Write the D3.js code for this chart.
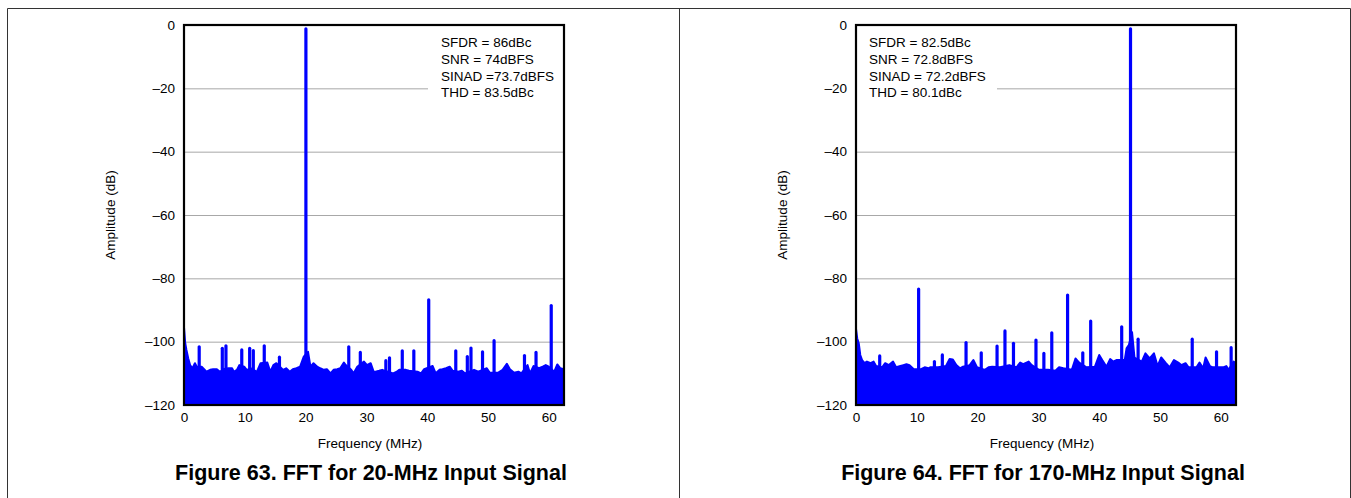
<!DOCTYPE html>
<html>
<head>
<meta charset="utf-8">
<script src="https://cdn.jsdelivr.net/npm/d3@7"></script>
<style>
  body { margin: 0; background: #fff; }
  svg text { font-family: "Liberation Sans", Arial, Helvetica, sans-serif; fill: #000; }
</style>
</head>
<body>
<div class="chart-container"></div>
<script>
// axis ticks (same for both figures)
const xTicks = [0, 10, 20, 30, 40, 50, 60];
const yTicks = [0, -20, -40, -60, -80, -100, -120];
const xDomain = [0, 62.5];
const yDomain = [-120, 0];

// Figure 63 - noise floor envelope [MHz, dB] and discrete spurs [MHz, dB]
const floor63 = [
  [0, -95.5], [0.2, -100.5], [0.4, -102.6], [0.7, -105.3], [1.0, -107.4], [1.4, -108.4],
  [1.8, -106.8], [2.1, -107.9], [2.9, -107.9], [3.3, -108.7], [3.7, -109.5], [4.3, -108.9],
  [4.8, -108.7], [5.4, -108.7], [5.9, -109.5], [6.6, -108.6], [7.3, -108.4], [7.9, -108.4],
  [8.2, -109.5], [8.7, -108.9], [9.1, -107.4], [9.9, -107.9], [10.3, -108.9], [11.1, -108.5],
  [12.0, -109.5], [12.6, -106.8], [13.7, -106.6], [14.2, -109.5], [14.7, -107.4], [15.2, -106.8],
  [16.3, -108.9], [16.8, -108.4], [17.4, -109.5], [17.9, -108.7], [18.5, -108.4], [19.1, -107.9],
  [19.7, -104.7], [20.4, -103.2], [20.8, -107.9], [21.3, -106.8], [21.9, -107.9], [22.4, -108.4],
  [23.0, -108.9], [23.5, -108.7], [24.1, -110], [24.6, -108.9], [25.2, -108.7], [25.7, -108.4],
  [26.3, -106.6], [26.6, -107.4], [27.5, -108.9], [27.9, -110], [28.5, -107.9], [29.6, -106.3],
  [30.1, -107.4], [30.7, -106.8], [31.2, -109.5], [31.5, -109.5], [32.1, -109.2], [32.6, -108.9],
  [34.4, -110], [35.0, -109.5], [35.4, -108.9], [36.5, -108.9], [37.0, -109.2], [38.4, -109.5],
  [39.0, -110], [39.5, -108.7], [40.9, -107.7], [41.4, -110], [42.0, -108.9], [42.5, -108.7],
  [43.1, -108.4], [43.7, -107.9], [44.2, -109.2], [45.1, -109.5], [45.7, -109.2], [46.2, -110],
  [47.7, -108.9], [48.4, -109.5], [49.8, -108.4], [50.3, -109.8], [51.7, -109.8], [52.4, -108.9],
  [53.1, -107.0], [53.6, -108.7], [54.3, -109.8], [55.0, -109.5], [55.5, -110], [56.5, -107.4],
  [56.9, -110], [57.5, -107.7], [58.4, -108.4], [59.0, -107.9], [59.5, -107.4], [60.0, -107.9],
  [60.9, -109.5], [61.4, -107.2], [61.9, -108.4], [62.5, -108.7]
];
const spurs63 = [
  [2.5, -101.6], [6.3, -102.1], [6.9, -101.3], [9.5, -102.6], [10.8, -102.1], [11.4, -102.8],
  [13.2, -101.3], [15.7, -104.9], [20.05, -1.2], [27.1, -101.6], [29.0, -103.4], [33.2, -106],
  [33.8, -105.1], [35.9, -102.9], [37.8, -102.9], [40.25, -86.8], [44.7, -102.9], [46.6, -104.7],
  [47.2, -102], [49.1, -103.2], [51.0, -99.7], [56.0, -104.4], [57.9, -103.4], [60.4, -88.6]
];
const stats63 = ["SFDR = 86dBc", "SNR = 74dBFS", "SINAD =73.7dBFS", "THD = 83.5dBc"];

// Figure 64
const floor64 = [
  [0, -96], [0.2, -99], [0.45, -100.5], [0.7, -104.2], [1.0, -105.8], [1.4, -106.8],
  [1.8, -106.3], [2.4, -106.8], [2.9, -106.3], [3.3, -107.7], [4.3, -108.1], [4.8, -106.8],
  [5.4, -107.4], [6.1, -106.3], [6.6, -108.1], [7.3, -107.7], [7.8, -107.4], [8.3, -107.1],
  [8.8, -107.4], [9.5, -108.7], [10.7, -108.7], [11.3, -108.1], [11.9, -108.4], [12.2, -108.1],
  [13.5, -108.1], [14.8, -107.7], [15.4, -105.5], [15.9, -105.6], [16.5, -107.4], [17.1, -108.4],
  [17.6, -107.9], [18.7, -107.4], [19.3, -105.8], [19.9, -108.1], [21.2, -108.9], [21.8, -108.1],
  [22.4, -107.9], [23.7, -108.1], [25.2, -107.4], [26.4, -108.1], [27.0, -106.6], [27.5, -107.1],
  [28.4, -106.3], [28.9, -107.4], [30.1, -108.9], [31.6, -108.9], [32.8, -109.2], [33.4, -108.1],
  [34.1, -108.4], [35.5, -108.9], [36.1, -105.3], [36.7, -106.6], [37.9, -108.1], [39.3, -107.9],
  [40.0, -104.2], [40.5, -105.8], [41.2, -107.9], [41.8, -105.5], [42.3, -106.3], [42.9, -105.8],
  [44.2, -105.8], [44.5, -102.1], [44.9, -101], [45.4, -97], [45.8, -105], [47.0, -106.3],
  [47.6, -103.7], [48.3, -105.3], [49.0, -103.7], [49.6, -107.7], [50.2, -105], [50.9, -106.6],
  [51.6, -108.1], [52.3, -105.8], [53.0, -106.6], [53.5, -107.4], [54.2, -106.8], [54.7, -108.1],
  [56.0, -108.1], [56.5, -106.6], [57.1, -108.4], [57.5, -105], [58.2, -107.7], [58.7, -108.1],
  [59.8, -108.1], [60.4, -108.1], [60.9, -107.7], [61.3, -108.9], [62.1, -106.3], [62.5, -106.8]
];
const spurs64 = [
  [3.9, -104.5], [10.3, -83.4], [12.9, -106.3], [14.2, -104.2], [18.1, -100.3], [20.6, -103.5],
  [23.2, -101.4], [24.5, -96.6], [25.9, -100.5], [29.6, -99.5], [30.9, -103.7], [32.2, -97.2],
  [34.8, -85.3], [37.3, -103.5], [38.6, -93.5], [43.7, -95.3], [45.15, -1.2], [46.4, -99.2],
  [55.3, -99.2], [59.3, -103.2], [61.7, -101.9]
];
const stats64 = ["SFDR = 82.5dBc", "SNR = 72.8dBFS", "SINAD = 72.2dBFS", "THD = 80.1dBc"];

const titles = ["Figure 63. FFT for 20-MHz Input Signal", "Figure 64. FFT for 170-MHz Input Signal"];

const W = 1351, H = 498;
const svg = d3.select(".chart-container").append("svg")
    .attr("width", W).attr("height", H);
svg.append("rect").attr("width", W).attr("height", H).attr("fill", "#fff");

// outer page frame
svg.append("path")
    .attr("d", "M7.5,498V8.5H1350.5V498M679.5,8.5V498")
    .attr("fill", "none").attr("stroke", "#333").attr("stroke-width", 1);

const fmt = d => d < 0 ? "\u2013" + Math.abs(d) : String(d);

function drawPanel(offsetX, floorData, spurData, stats, title, boxLeft, idx) {
    const margin = {top: 25, left: 184},
        width = 380, height = 380;
    const g = svg.append("g").attr("transform", `translate(${offsetX + margin.left},${margin.top})`);

    const x = d3.scaleLinear().domain(xDomain).range([0, width]);
    const y = d3.scaleLinear().domain(yDomain).range([height, 0]);

    // gridlines
    g.append("g")
        .call(d3.axisLeft(y).tickValues(yTicks.filter(d => d > -120 && d < 0)).tickSize(-width).tickFormat(""))
        .call(s => s.select(".domain").remove())
        .selectAll("line").attr("stroke", "#a8a8a8").attr("stroke-width", 1);

    // white box behind stats
    const bx = boxLeft === "left" ? 1 : 244;
    const bw = boxLeft === "left" ? 140 : width - 245;
    g.append("rect").attr("x", bx).attr("y", 6).attr("width", bw).attr("height", 72).attr("fill", "#fff");

    g.append("clipPath").attr("id", "clip" + idx)
        .append("rect").attr("width", width).attr("height", height);
    const plot = g.append("g").attr("clip-path", `url(#clip${idx})`);

    const area = d3.area().x(d => x(d[0])).y0(height).y1(d => y(d[1]));
    const line = d3.line().x(d => x(d[0])).y(d => y(d[1]));
    plot.append("path").datum(floorData).attr("d", area).attr("fill", "#0000ff");
    plot.append("path").datum(floorData).attr("d", line)
        .attr("fill", "none").attr("stroke", "#0000ff").attr("stroke-width", 2).attr("stroke-linejoin", "round");

    plot.selectAll(".spur").data(spurData).enter().append("line")
        .attr("class", "spur")
        .attr("x1", d => x(d[0])).attr("x2", d => x(d[0]))
        .attr("y1", height).attr("y2", d => y(d[1]))
        .attr("stroke", "#0000ff").attr("stroke-width", 3.2).attr("stroke-linecap", "round");

    // frame
    g.append("rect").attr("width", width).attr("height", height)
        .attr("fill", "none").attr("stroke", "#000").attr("stroke-width", 2.2);

    // axes
    g.append("g")
        .call(d3.axisLeft(y).tickValues(yTicks).tickSize(0).tickPadding(9).tickFormat(fmt))
        .call(s => s.select(".domain").remove())
        .selectAll("text").style("font-size", "13.5px");
    g.append("g").attr("transform", `translate(0,${height})`)
        .call(d3.axisBottom(x).tickValues(xTicks).tickSize(0).tickPadding(7))
        .call(s => s.select(".domain").remove())
        .selectAll("text").style("font-size", "13.5px");

    // stats text
    const tx = boxLeft === "left" ? 13 : 257;
    g.append("g").selectAll("text").data(stats).enter().append("text")
        .attr("x", tx).attr("y", (d, i) => 22.3 + i * 16.7)
        .style("font-size", "13.5px")
        .text(d => d);

    // labels
    g.append("text")
        .attr("transform", `translate(-69,${height / 2}) rotate(-90)`)
        .attr("text-anchor", "middle").style("font-size", "13.5px")
        .text("Amplitude (dB)");
    g.append("text")
        .attr("x", width / 2 - 4).attr("y", height + 43)
        .attr("text-anchor", "middle").style("font-size", "13.5px")
        .text("Frequency (MHz)");
    g.append("text")
        .attr("x", width / 2 - 3).attr("y", height + 75)
        .attr("text-anchor", "middle").style("font-size", "21.5px").style("font-weight", "bold")
        .text(title);
}

drawPanel(0, floor63, spurs63, stats63, titles[0], "right", 0);
drawPanel(672, floor64, spurs64, stats64, titles[1], "left", 1);
</script>
</body>
</html>
